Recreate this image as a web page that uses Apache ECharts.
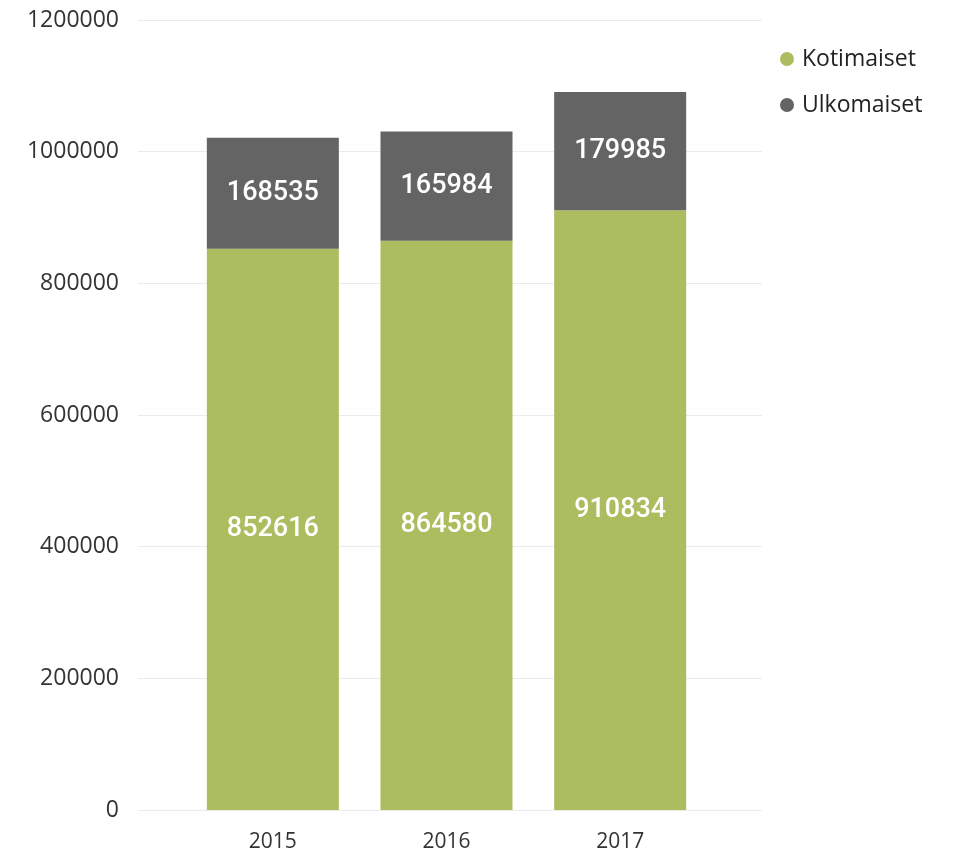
<!DOCTYPE html>
<html>
<head>
<meta charset="utf-8">
<script src="https://cdn.jsdelivr.net/npm/echarts@6/dist/echarts.min.js"></script>
<style>html,body{margin:0;padding:0;background:#fff;}#c{width:959px;height:857px;}</style>
</head>
<body>
<div id="c"></div>
<script>
var categories = ['2015', '2016', '2017'];
var kotimaiset = [852616, 864580, 910834];
var ulkomaiset = [168535, 165984, 179985];
var seriesNames = ['Kotimaiset', 'Ulkomaiset'];

var chart = echarts.init(document.getElementById('c'));
var labelStyle = {
  show: true, position: 'inside', color: '#ffffff',
  fontFamily: 'Roboto', fontSize: 27, fontWeight: 500
};
chart.setOption({
  animation: false,
  color: ['#abbd5f', '#646464'],
  legend: {
    orient: 'vertical', left: 775, top: 42,
    icon: 'circle', itemWidth: 14, itemHeight: 14, itemGap: 22,
    textStyle: { fontFamily: 'Open Sans', fontSize: 23, color: '#222', lineHeight: 24, padding: [0, 0, 0, 3] },
    data: seriesNames
  },
  grid: [
    { left: 186, right: 252, top: 20, bottom: 47 },
    { left: 138, right: 197, top: 20, bottom: 47 }
  ],
  xAxis: [
    {
      type: 'category', gridIndex: 0, data: categories,
      axisLine: { show: false }, axisTick: { show: false },
      axisLabel: { fontFamily: 'Open Sans', fontSize: 21, color: '#333', margin: 22 }
    },
    { type: 'value', gridIndex: 1, show: false, min: 0, max: 1 }
  ],
  yAxis: [
    { type: 'value', gridIndex: 0, min: 0, max: 1200000, interval: 200000, show: false },
    {
      type: 'value', gridIndex: 1, min: 0, max: 1200000, interval: 200000,
      axisLine: { show: false }, axisTick: { show: false },
      splitLine: { lineStyle: { color: '#ebebeb', width: 1 } },
      axisLabel: {
        fontFamily: 'Open Sans', fontSize: 23, color: '#333', margin: 19,
        formatter: function (v) { return String(v); }
      }
    }
  ],
  series: [
    {
      name: seriesNames[0], type: 'bar', stack: 'total', xAxisIndex: 0, yAxisIndex: 0,
      data: kotimaiset, barWidth: 132, label: labelStyle
    },
    {
      name: seriesNames[1], type: 'bar', stack: 'total', xAxisIndex: 0, yAxisIndex: 0,
      data: ulkomaiset, barWidth: 132, label: labelStyle
    }
  ]
});
</script>
</body>
</html>
